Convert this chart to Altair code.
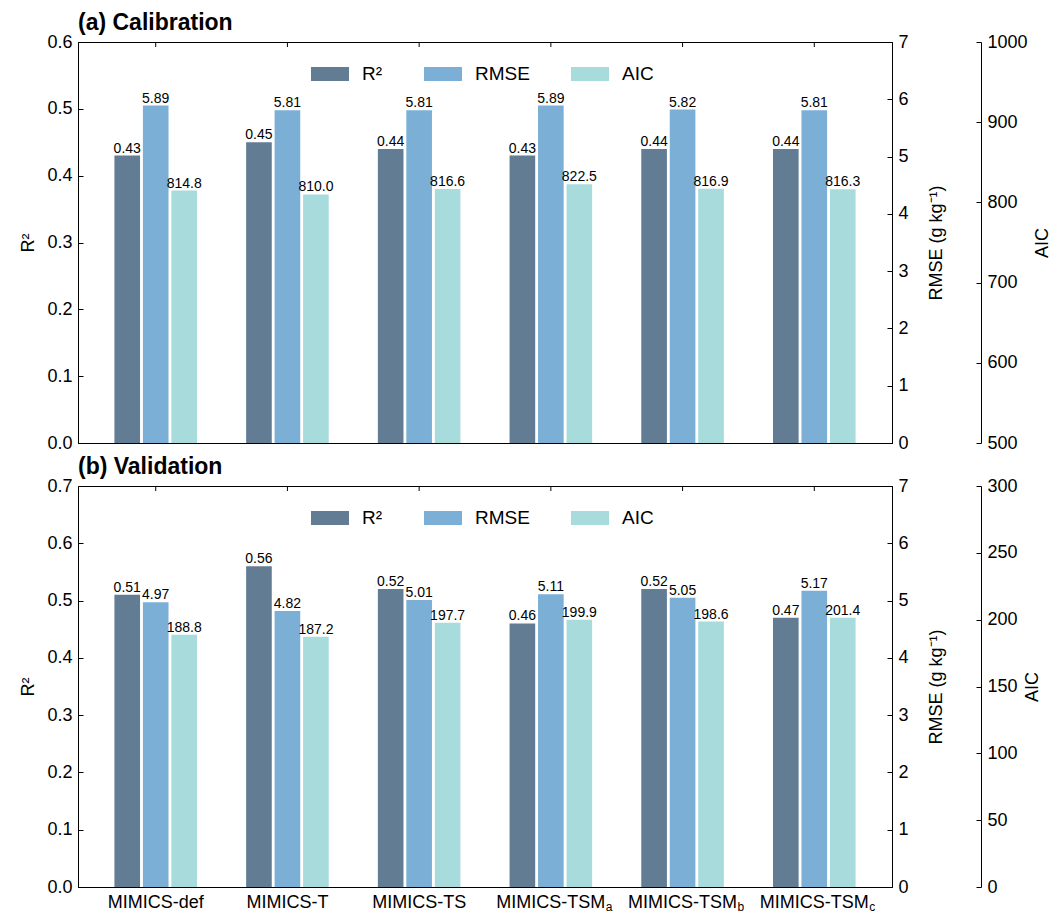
import altair as alt
import pandas as pd

models = ["MIMICS-def", "MIMICS-T", "MIMICS-TS", "MIMICS-TSMa", "MIMICS-TSMb", "MIMICS-TSMc"]
model_subs = ["", "", "", "a", "b", "c"]
metrics = ["R²", "RMSE", "AIC"]
metric_colors = ["#627c93", "#7bafd5", "#a8dbdc"]

cal_r2 = [0.43, 0.45, 0.44, 0.43, 0.44, 0.44]
cal_rmse = [5.89, 5.81, 5.81, 5.89, 5.82, 5.81]
cal_aic = [814.8, 810.0, 816.6, 822.5, 816.9, 816.3]

val_r2 = [0.51, 0.56, 0.52, 0.46, 0.52, 0.47]
val_rmse = [4.97, 4.82, 5.01, 5.11, 5.05, 5.17]
val_aic = [188.8, 187.2, 197.7, 199.9, 198.6, 201.4]

cal_r2_ticks = [0.0, 0.1, 0.2, 0.3, 0.4, 0.5, 0.6]
val_r2_ticks = [0.0, 0.1, 0.2, 0.3, 0.4, 0.5, 0.6, 0.7]
rmse_ticks = [0, 1, 2, 3, 4, 5, 6, 7]
cal_aic_ticks = [500, 600, 700, 800, 900, 1000]
val_aic_ticks = [0, 50, 100, 150, 200, 250, 300]

FONT = "Liberation Sans"
W, H = 814, 401
TICK_IN = alt.ExprRef(expr="-5")


def long_df(r2, rmse, aic):
    rows = []
    for i, m in enumerate(models):
        rows.append({"model": m, "metric": "R²", "value": r2[i]})
        rows.append({"model": m, "metric": "RMSE", "value": rmse[i]})
        rows.append({"model": m, "metric": "AIC", "value": aic[i]})
    return pd.DataFrame(rows)


def panel(title, r2, rmse, aic, r2_ticks, aic_ticks, show_x_labels):
    df = long_df(r2, rmse, aic)
    x_enc = alt.X(
        "model:N", sort=models,
        scale=alt.Scale(domain=models, paddingInner=0.36, paddingOuter=0.27),
        axis=alt.Axis(title=None, labels=show_x_labels,
                      labelExpr="indexof(datum.value, 'TSM') >= 0 ? 'MIMICS-TSM' : datum.value",
                      tickSize=TICK_IN, labelPadding=11, labelFontSize=18, labelAngle=0),
    )
    xo_enc = alt.XOffset("metric:N", sort=metrics,
                         scale=alt.Scale(domain=metrics, paddingInner=0.1, paddingOuter=0.03))
    color_enc = alt.Color(
        "metric:N", sort=metrics,
        scale=alt.Scale(domain=metrics, range=metric_colors),
        legend=alt.Legend(title=None, orient="none", legendX=233, legendY=13,
                          direction="horizontal",
                          symbolType="M-1,-0.37H1V0.37H-1Z", symbolSize=1444,
                          symbolStrokeWidth=0, symbolOpacity=1,
                          labelFontSize=19, labelOffset=13, columnPadding=41),
    )

    def metric_layer(name, yaxis, dom, fmt):
        src = alt.Chart(df).transform_filter(alt.datum.metric == name).encode(
            x=x_enc, xOffset=xo_enc,
            y=alt.Y("value:Q", scale=alt.Scale(domain=dom, nice=False, zero=False), axis=yaxis),
        )
        bars = src.mark_bar(opacity=1).encode(color=color_enc, y2=alt.datum(dom[0]))
        txt = src.mark_text(baseline="bottom", dy=0, fontSize=14).encode(
            text=alt.Text("value:Q", format=fmt))
        return alt.layer(bars, txt)

    r2_axis = alt.Axis(orient="left", values=r2_ticks, format=".1f", title="R²",
                       tickSize=TICK_IN, labelPadding=11, titlePadding=9)
    rmse_axis = alt.Axis(orient="right", values=rmse_ticks, format="d", title="RMSE (g kg⁻¹)",
                         tickSize=TICK_IN, labelPadding=11, titlePadding=19,
                         titleAngle=270, titleBaseline="top")
    aic_axis = alt.Axis(orient="right", offset=89, values=aic_ticks, format="d", title="AIC",
                        tickSize=TICK_IN, labelPadding=11, titlePadding=6,
                        titleAngle=270, titleBaseline="top")

    layers = [
        metric_layer("R²", r2_axis, [r2_ticks[0], r2_ticks[-1]], ".2f"),
        metric_layer("RMSE", rmse_axis, [rmse_ticks[0], rmse_ticks[-1]], ".2f"),
        metric_layer("AIC", aic_axis, [aic_ticks[0], aic_ticks[-1]], ".1f"),
    ]

    tick_df = pd.DataFrame({"model": models, "sub": model_subs})
    top_ticks = alt.Chart(tick_df).mark_rule(color="black", strokeWidth=1).encode(
        x=x_enc, y=alt.value(0), y2=alt.value(5))
    layers.append(top_ticks)

    if show_x_labels:
        subs = alt.Chart(tick_df).transform_filter(alt.datum.sub != "").mark_text(
            align="left", baseline="alphabetic", fontSize=12, dx=55
        ).encode(x=x_enc, y=alt.value(H + 24), text="sub:N")
        layers.append(subs)

    return alt.layer(*layers).resolve_scale(y="independent").properties(
        width=W, height=H,
        title=alt.TitleParams(title, anchor="start", frame="group", fontSize=23,
                              fontWeight="bold", offset=-2),
    )


top_panel = panel("(a) Calibration", cal_r2, cal_rmse, cal_aic, cal_r2_ticks, cal_aic_ticks, False)
bottom_panel = panel("(b) Validation", val_r2, val_rmse, val_aic, val_r2_ticks, val_aic_ticks, True)

chart = alt.vconcat(top_panel, bottom_panel, spacing=2).resolve_scale(
    color="independent").resolve_legend(color="independent").properties(
    padding={"left": 19, "top": 11, "right": 0, "bottom": 0}
).configure_view(stroke="black", strokeWidth=1).configure_axis(
    labelFont=FONT, titleFont=FONT, labelFontSize=18, titleFontSize=18,
    labelColor="black", titleColor="black", domainColor="black", tickColor="black",
    grid=False, titleFontWeight="normal", domainWidth=1, tickWidth=1,
).configure_text(font=FONT, color="black").configure_legend(
    labelFont=FONT, labelColor="black"
).configure_title(font=FONT, color="black")

chart.save("out.html", embed_options={"renderer": "svg", "actions": False})
